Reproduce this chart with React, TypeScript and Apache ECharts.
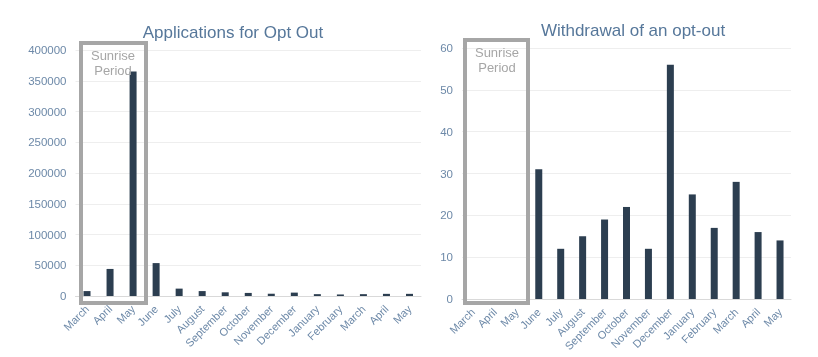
import React, { useEffect, useRef } from "react";
import * as echarts from "echarts";

const months = ["March", "April", "May", "June", "July", "August", "September", "October", "November", "December", "January", "February", "March", "April", "May"];
const applications = [8000, 44000, 365000, 53500, 12000, 8000, 6000, 5000, 3700, 5500, 3000, 2500, 3000, 3500, 3500];
const withdrawals = [0, 0, 0, 31, 12, 15, 19, 22, 12, 56, 25, 17, 28, 16, 14];
const leftTicks = { min: 0, max: 400000, interval: 50000 };
const rightTicks = { min: 0, max: 60, interval: 10 };

const FONT = "'Liberation Sans', Arial, sans-serif";
const LABEL = "#6d89a8";
const TITLE = "#56779a";
const BAR = "#2c3e50";
const BOX = "#a6a6a6";

export default function App() {
  const ref = useRef<HTMLDivElement>(null);
  useEffect(() => {
    document.body.style.margin = "0";
    const chart = echarts.init(ref.current!, undefined, { renderer: "svg" });
    const xAxisCommon = {
      type: "category" as const,
      data: months,
      axisTick: { show: false },
      axisLine: { lineStyle: { color: "#d9d9d9", width: 1 } },
      axisLabel: { rotate: 45, color: LABEL, fontSize: 11, fontFamily: FONT, margin: 11, interval: 0 },
    };
    const yAxisCommon = {
      type: "value" as const,
      axisLine: { show: false },
      axisTick: { show: false },
      splitLine: { lineStyle: { color: "#eeeeee", width: 1 } },
      axisLabel: { color: LABEL, fontSize: 11.5, fontFamily: FONT, margin: 9, formatter: (v: number) => String(v) },
    };
    chart.setOption({
      animation: false,
      textStyle: { fontFamily: FONT },
      title: [
        { text: "Applications for Opt Out", left: 228, top: 19, textAlign: "center", textStyle: { color: TITLE, fontSize: 17, fontWeight: "normal", fontFamily: FONT } },
        { text: "Withdrawal of an opt-out", left: 628, top: 17, textAlign: "center", textStyle: { color: TITLE, fontSize: 17, fontWeight: "normal", fontFamily: FONT } },
      ],
      grid: [
        { left: 75.5, top: 50, width: 345.5, height: 246 },
        { left: 462, top: 48, width: 329, height: 251 },
      ],
      xAxis: [
        { ...xAxisCommon, gridIndex: 0 },
        { ...xAxisCommon, gridIndex: 1 },
      ],
      yAxis: [
        { ...yAxisCommon, gridIndex: 0, ...leftTicks },
        { ...yAxisCommon, gridIndex: 1, ...rightTicks },
      ],
      series: [
        { type: "bar", xAxisIndex: 0, yAxisIndex: 0, data: applications, barWidth: 7, itemStyle: { color: BAR } },
        { type: "bar", xAxisIndex: 1, yAxisIndex: 1, data: withdrawals, barWidth: 7, itemStyle: { color: BAR } },
      ],
      graphic: [
        { type: "rect", shape: { x: 81, y: 43, width: 65, height: 260 }, style: { fill: "none", stroke: BOX, lineWidth: 4 }, z: 10 },
        { type: "text", x: 113, y: 48, style: { text: "Sunrise\nPeriod", fill: BOX, fontSize: 13, fontFamily: FONT, align: "center", lineHeight: 15 }, z: 11 },
        { type: "rect", shape: { x: 465, y: 40, width: 63, height: 263 }, style: { fill: "none", stroke: BOX, lineWidth: 4 }, z: 10 },
        { type: "text", x: 497, y: 45, style: { text: "Sunrise\nPeriod", fill: BOX, fontSize: 13, fontFamily: FONT, align: "center", lineHeight: 15 }, z: 11 },
      ],
    });
    return () => chart.dispose();
  }, []);
  return <div ref={ref} style={{ position: "fixed", left: 0, top: 0, width: 818, height: 357 }} />;
}
